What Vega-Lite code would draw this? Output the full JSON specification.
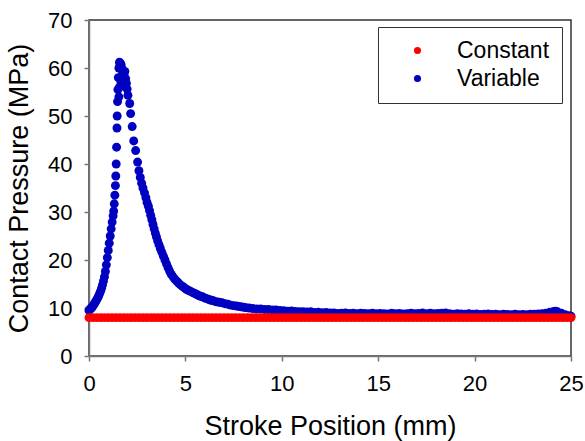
{
"$schema":"https://vega.github.io/schema/vega-lite/v6.json",
"width":482,"height":336,
"autosize":{"type":"none"},
"padding":{"left":89,"top":20,"right":14,"bottom":85},
"config":{"font":"Liberation Sans","view":{"stroke":"#333","strokeWidth":1.5},
 "axis":{"grid":false,"domainColor":"#777","domainWidth":1.5,"tickColor":"#777","tickWidth":1.5,"tickSize":5,"labelFontSize":22,"labelColor":"#000","labelPadding":12,"labelFlush":false,"titleFontSize":27,"titleFontWeight":"normal","titleColor":"#000"}},
"data":{"values":[
{"x":0.00,"y":9.5,"s":"Variable"},{"x":0.05,"y":9.7,"s":"Variable"},{"x":0.10,"y":9.9,"s":"Variable"},{"x":0.15,"y":10.1,"s":"Variable"},{"x":0.20,"y":10.4,"s":"Variable"},{"x":0.25,"y":10.7,"s":"Variable"},{"x":0.30,"y":11.0,"s":"Variable"},{"x":0.35,"y":11.4,"s":"Variable"},{"x":0.40,"y":11.7,"s":"Variable"},{"x":0.45,"y":12.1,"s":"Variable"},{"x":0.50,"y":12.5,"s":"Variable"},{"x":0.55,"y":13.0,"s":"Variable"},{"x":0.60,"y":13.5,"s":"Variable"},{"x":0.65,"y":14.1,"s":"Variable"},{"x":0.70,"y":14.8,"s":"Variable"},{"x":0.75,"y":15.6,"s":"Variable"},{"x":0.80,"y":16.5,"s":"Variable"},{"x":0.85,"y":17.6,"s":"Variable"},{"x":0.90,"y":19.0,"s":"Variable"},{"x":0.95,"y":20.5,"s":"Variable"},{"x":1.00,"y":22.0,"s":"Variable"},{"x":1.05,"y":23.5,"s":"Variable"},{"x":1.10,"y":25.0,"s":"Variable"},{"x":1.15,"y":26.5,"s":"Variable"},{"x":1.20,"y":27.9,"s":"Variable"},{"x":1.25,"y":29.2,"s":"Variable"},{"x":1.28,"y":30.2,"s":"Variable"},{"x":1.31,"y":31.7,"s":"Variable"},{"x":1.34,"y":33.5,"s":"Variable"},{"x":1.37,"y":35.5,"s":"Variable"},{"x":1.39,"y":37.5,"s":"Variable"},{"x":1.41,"y":40.0,"s":"Variable"},{"x":1.43,"y":43.5,"s":"Variable"},{"x":1.45,"y":47.5,"s":"Variable"},{"x":1.46,"y":50.0,"s":"Variable"},{"x":1.48,"y":53.0,"s":"Variable"},{"x":1.50,"y":55.5,"s":"Variable"},{"x":1.52,"y":58.0,"s":"Variable"},{"x":1.55,"y":60.0,"s":"Variable"},{"x":1.58,"y":61.2,"s":"Variable"},{"x":1.61,"y":61.0,"s":"Variable"},
{"x":1.62,"y":60.5,"s":"Variable"},{"x":1.66,"y":60.8,"s":"Variable"},{"x":1.70,"y":60.0,"s":"Variable"},{"x":1.74,"y":59.2,"s":"Variable"},{"x":1.78,"y":58.4,"s":"Variable"},{"x":1.62,"y":58.0,"s":"Variable"},{"x":1.66,"y":57.0,"s":"Variable"},{"x":1.72,"y":57.8,"s":"Variable"},{"x":1.82,"y":58.8,"s":"Variable"},{"x":1.86,"y":59.3,"s":"Variable"},{"x":1.90,"y":57.8,"s":"Variable"},{"x":1.94,"y":56.8,"s":"Variable"},{"x":1.98,"y":55.6,"s":"Variable"},{"x":2.02,"y":54.3,"s":"Variable"},{"x":1.55,"y":54.0,"s":"Variable"},{"x":1.58,"y":56.0,"s":"Variable"},
{"x":2.11,"y":52.6,"s":"Variable"},{"x":2.16,"y":50.5,"s":"Variable"},{"x":2.24,"y":47.8,"s":"Variable"},{"x":2.32,"y":44.8,"s":"Variable"},{"x":2.42,"y":42.8,"s":"Variable"},{"x":2.52,"y":40.4,"s":"Variable"},{"x":2.59,"y":38.6,"s":"Variable"},{"x":2.66,"y":37.2,"s":"Variable"},{"x":2.73,"y":36.0,"s":"Variable"},{"x":2.80,"y":35.0,"s":"Variable"},{"x":2.88,"y":34.0,"s":"Variable"},{"x":2.95,"y":33.0,"s":"Variable"},{"x":3.01,"y":32.0,"s":"Variable"},{"x":3.08,"y":31.2,"s":"Variable"},{"x":3.14,"y":30.3,"s":"Variable"},{"x":3.20,"y":29.3,"s":"Variable"},{"x":3.26,"y":28.4,"s":"Variable"},{"x":3.32,"y":27.4,"s":"Variable"},{"x":3.38,"y":26.5,"s":"Variable"},{"x":3.44,"y":25.6,"s":"Variable"},{"x":3.50,"y":24.8,"s":"Variable"},{"x":3.56,"y":24.0,"s":"Variable"},{"x":3.63,"y":23.2,"s":"Variable"},{"x":3.70,"y":22.4,"s":"Variable"},{"x":3.78,"y":21.6,"s":"Variable"},{"x":3.86,"y":20.8,"s":"Variable"},{"x":3.94,"y":20.0,"s":"Variable"},{"x":4.02,"y":19.2,"s":"Variable"},{"x":4.10,"y":18.4,"s":"Variable"},{"x":4.18,"y":17.7,"s":"Variable"},{"x":4.27,"y":17.0,"s":"Variable"},{"x":4.36,"y":16.5,"s":"Variable"},{"x":4.45,"y":16.0,"s":"Variable"},{"x":4.55,"y":15.6,"s":"Variable"},{"x":4.65,"y":15.2,"s":"Variable"},{"x":4.75,"y":14.8,"s":"Variable"},{"x":4.85,"y":14.5,"s":"Variable"},{"x":4.95,"y":14.2,"s":"Variable"},{"x":5.05,"y":13.9,"s":"Variable"},{"x":5.15,"y":13.7,"s":"Variable"},{"x":5.25,"y":13.5,"s":"Variable"},{"x":5.35,"y":13.3,"s":"Variable"},{"x":5.45,"y":13.1,"s":"Variable"},{"x":5.55,"y":12.9,"s":"Variable"},{"x":5.65,"y":12.7,"s":"Variable"},{"x":5.75,"y":12.5,"s":"Variable"},{"x":5.85,"y":12.4,"s":"Variable"},{"x":5.95,"y":12.2,"s":"Variable"},{"x":6.05,"y":12.0,"s":"Variable"},{"x":6.15,"y":11.9,"s":"Variable"},{"x":6.25,"y":11.7,"s":"Variable"},{"x":6.35,"y":11.6,"s":"Variable"},{"x":6.45,"y":11.5,"s":"Variable"},{"x":6.60,"y":11.3,"s":"Variable"},{"x":6.75,"y":11.2,"s":"Variable"},{"x":6.90,"y":11.1,"s":"Variable"},{"x":7.05,"y":10.9,"s":"Variable"},{"x":7.20,"y":10.8,"s":"Variable"},{"x":7.35,"y":10.6,"s":"Variable"},{"x":7.50,"y":10.5,"s":"Variable"},{"x":7.65,"y":10.4,"s":"Variable"},{"x":7.80,"y":10.3,"s":"Variable"},{"x":7.95,"y":10.2,"s":"Variable"},{"x":8.10,"y":10.1,"s":"Variable"},{"x":8.30,"y":10.0,"s":"Variable"},{"x":8.50,"y":9.9,"s":"Variable"},{"x":8.70,"y":9.8,"s":"Variable"},{"x":8.90,"y":9.8,"s":"Variable"},{"x":9.10,"y":9.7,"s":"Variable"},{"x":9.30,"y":9.7,"s":"Variable"},{"x":9.50,"y":9.6,"s":"Variable"},{"x":9.70,"y":9.6,"s":"Variable"},{"x":9.90,"y":9.5,"s":"Variable"},
{"x":10.1,"y":9.45,"s":"Variable"},{"x":10.3,"y":9.35,"s":"Variable"},{"x":10.5,"y":9.4,"s":"Variable"},{"x":10.7,"y":9.3,"s":"Variable"},{"x":10.9,"y":9.2,"s":"Variable"},{"x":11.1,"y":9.25,"s":"Variable"},{"x":11.3,"y":9.15,"s":"Variable"},{"x":11.5,"y":9.2,"s":"Variable"},{"x":11.7,"y":9.05,"s":"Variable"},{"x":11.9,"y":9.1,"s":"Variable"},{"x":12.1,"y":9.0,"s":"Variable"},{"x":12.3,"y":9.05,"s":"Variable"},{"x":12.5,"y":8.95,"s":"Variable"},{"x":12.7,"y":8.95,"s":"Variable"},{"x":12.9,"y":8.85,"s":"Variable"},{"x":13.1,"y":8.9,"s":"Variable"},{"x":13.3,"y":8.95,"s":"Variable"},{"x":13.5,"y":8.85,"s":"Variable"},{"x":13.7,"y":8.9,"s":"Variable"},{"x":13.9,"y":8.8,"s":"Variable"},{"x":14.1,"y":8.9,"s":"Variable"},{"x":14.3,"y":8.85,"s":"Variable"},{"x":14.5,"y":8.8,"s":"Variable"},{"x":14.7,"y":8.9,"s":"Variable"},{"x":14.9,"y":8.8,"s":"Variable"},{"x":15.1,"y":8.85,"s":"Variable"},{"x":15.3,"y":8.8,"s":"Variable"},{"x":15.5,"y":8.75,"s":"Variable"},{"x":15.7,"y":8.9,"s":"Variable"},{"x":15.9,"y":8.8,"s":"Variable"},{"x":16.1,"y":8.85,"s":"Variable"},{"x":16.3,"y":8.75,"s":"Variable"},{"x":16.5,"y":8.8,"s":"Variable"},{"x":16.7,"y":8.9,"s":"Variable"},{"x":16.9,"y":8.8,"s":"Variable"},{"x":17.1,"y":8.85,"s":"Variable"},{"x":17.3,"y":8.95,"s":"Variable"},{"x":17.5,"y":8.8,"s":"Variable"},{"x":17.7,"y":8.9,"s":"Variable"},{"x":17.9,"y":8.8,"s":"Variable"},{"x":18.1,"y":8.85,"s":"Variable"},{"x":18.3,"y":8.9,"s":"Variable"},{"x":18.5,"y":8.95,"s":"Variable"},{"x":18.7,"y":8.8,"s":"Variable"},{"x":18.9,"y":8.7,"s":"Variable"},{"x":19.1,"y":8.8,"s":"Variable"},{"x":19.3,"y":8.75,"s":"Variable"},{"x":19.5,"y":8.7,"s":"Variable"},{"x":19.7,"y":8.8,"s":"Variable"},{"x":19.9,"y":8.7,"s":"Variable"},{"x":20.1,"y":8.75,"s":"Variable"},{"x":20.3,"y":8.65,"s":"Variable"},{"x":20.5,"y":8.7,"s":"Variable"},{"x":20.7,"y":8.75,"s":"Variable"},{"x":20.9,"y":8.65,"s":"Variable"},{"x":21.1,"y":8.7,"s":"Variable"},{"x":21.3,"y":8.6,"s":"Variable"},{"x":21.5,"y":8.7,"s":"Variable"},{"x":21.7,"y":8.65,"s":"Variable"},{"x":21.9,"y":8.6,"s":"Variable"},{"x":22.1,"y":8.7,"s":"Variable"},{"x":22.3,"y":8.6,"s":"Variable"},{"x":22.5,"y":8.65,"s":"Variable"},{"x":22.7,"y":8.6,"s":"Variable"},{"x":22.9,"y":8.7,"s":"Variable"},{"x":23.1,"y":8.7,"s":"Variable"},{"x":23.3,"y":8.75,"s":"Variable"},{"x":23.5,"y":8.8,"s":"Variable"},{"x":23.7,"y":8.9,"s":"Variable"},{"x":23.9,"y":9.1,"s":"Variable"},{"x":24.1,"y":9.3,"s":"Variable"},{"x":24.2,"y":9.35,"s":"Variable"},{"x":24.3,"y":9.2,"s":"Variable"},{"x":24.5,"y":8.9,"s":"Variable"},{"x":24.7,"y":8.6,"s":"Variable"},{"x":24.9,"y":8.4,"s":"Variable"},{"x":25.0,"y":8.3,"s":"Variable"},
{"x":0.0,"y":8,"s":"Constant"},{"x":0.2,"y":8,"s":"Constant"},{"x":0.4,"y":8,"s":"Constant"},{"x":0.6,"y":8,"s":"Constant"},{"x":0.8,"y":8,"s":"Constant"},{"x":1.0,"y":8,"s":"Constant"},{"x":1.2,"y":8,"s":"Constant"},{"x":1.4,"y":8,"s":"Constant"},{"x":1.6,"y":8,"s":"Constant"},{"x":1.8,"y":8,"s":"Constant"},{"x":2.0,"y":8,"s":"Constant"},{"x":2.2,"y":8,"s":"Constant"},{"x":2.4,"y":8,"s":"Constant"},{"x":2.6,"y":8,"s":"Constant"},{"x":2.8,"y":8,"s":"Constant"},{"x":3.0,"y":8,"s":"Constant"},{"x":3.2,"y":8,"s":"Constant"},{"x":3.4,"y":8,"s":"Constant"},{"x":3.6,"y":8,"s":"Constant"},{"x":3.8,"y":8,"s":"Constant"},{"x":4.0,"y":8,"s":"Constant"},{"x":4.2,"y":8,"s":"Constant"},{"x":4.4,"y":8,"s":"Constant"},{"x":4.6,"y":8,"s":"Constant"},{"x":4.8,"y":8,"s":"Constant"},{"x":5.0,"y":8,"s":"Constant"},{"x":5.2,"y":8,"s":"Constant"},{"x":5.4,"y":8,"s":"Constant"},{"x":5.6,"y":8,"s":"Constant"},{"x":5.8,"y":8,"s":"Constant"},{"x":6.0,"y":8,"s":"Constant"},{"x":6.2,"y":8,"s":"Constant"},{"x":6.4,"y":8,"s":"Constant"},{"x":6.6,"y":8,"s":"Constant"},{"x":6.8,"y":8,"s":"Constant"},{"x":7.0,"y":8,"s":"Constant"},{"x":7.2,"y":8,"s":"Constant"},{"x":7.4,"y":8,"s":"Constant"},{"x":7.6,"y":8,"s":"Constant"},{"x":7.8,"y":8,"s":"Constant"},{"x":8.0,"y":8,"s":"Constant"},{"x":8.2,"y":8,"s":"Constant"},{"x":8.4,"y":8,"s":"Constant"},{"x":8.6,"y":8,"s":"Constant"},{"x":8.8,"y":8,"s":"Constant"},{"x":9.0,"y":8,"s":"Constant"},{"x":9.2,"y":8,"s":"Constant"},{"x":9.4,"y":8,"s":"Constant"},{"x":9.6,"y":8,"s":"Constant"},{"x":9.8,"y":8,"s":"Constant"},{"x":10.0,"y":8,"s":"Constant"},{"x":10.2,"y":8,"s":"Constant"},{"x":10.4,"y":8,"s":"Constant"},{"x":10.6,"y":8,"s":"Constant"},{"x":10.8,"y":8,"s":"Constant"},{"x":11.0,"y":8,"s":"Constant"},{"x":11.2,"y":8,"s":"Constant"},{"x":11.4,"y":8,"s":"Constant"},{"x":11.6,"y":8,"s":"Constant"},{"x":11.8,"y":8,"s":"Constant"},{"x":12.0,"y":8,"s":"Constant"},{"x":12.2,"y":8,"s":"Constant"},{"x":12.4,"y":8,"s":"Constant"},{"x":12.6,"y":8,"s":"Constant"},{"x":12.8,"y":8,"s":"Constant"},{"x":13.0,"y":8,"s":"Constant"},{"x":13.2,"y":8,"s":"Constant"},{"x":13.4,"y":8,"s":"Constant"},{"x":13.6,"y":8,"s":"Constant"},{"x":13.8,"y":8,"s":"Constant"},{"x":14.0,"y":8,"s":"Constant"},{"x":14.2,"y":8,"s":"Constant"},{"x":14.4,"y":8,"s":"Constant"},{"x":14.6,"y":8,"s":"Constant"},{"x":14.8,"y":8,"s":"Constant"},{"x":15.0,"y":8,"s":"Constant"},{"x":15.2,"y":8,"s":"Constant"},{"x":15.4,"y":8,"s":"Constant"},{"x":15.6,"y":8,"s":"Constant"},{"x":15.8,"y":8,"s":"Constant"},{"x":16.0,"y":8,"s":"Constant"},{"x":16.2,"y":8,"s":"Constant"},{"x":16.4,"y":8,"s":"Constant"},{"x":16.6,"y":8,"s":"Constant"},{"x":16.8,"y":8,"s":"Constant"},{"x":17.0,"y":8,"s":"Constant"},{"x":17.2,"y":8,"s":"Constant"},{"x":17.4,"y":8,"s":"Constant"},{"x":17.6,"y":8,"s":"Constant"},{"x":17.8,"y":8,"s":"Constant"},{"x":18.0,"y":8,"s":"Constant"},{"x":18.2,"y":8,"s":"Constant"},{"x":18.4,"y":8,"s":"Constant"},{"x":18.6,"y":8,"s":"Constant"},{"x":18.8,"y":8,"s":"Constant"},{"x":19.0,"y":8,"s":"Constant"},{"x":19.2,"y":8,"s":"Constant"},{"x":19.4,"y":8,"s":"Constant"},{"x":19.6,"y":8,"s":"Constant"},{"x":19.8,"y":8,"s":"Constant"},{"x":20.0,"y":8,"s":"Constant"},{"x":20.2,"y":8,"s":"Constant"},{"x":20.4,"y":8,"s":"Constant"},{"x":20.6,"y":8,"s":"Constant"},{"x":20.8,"y":8,"s":"Constant"},{"x":21.0,"y":8,"s":"Constant"},{"x":21.2,"y":8,"s":"Constant"},{"x":21.4,"y":8,"s":"Constant"},{"x":21.6,"y":8,"s":"Constant"},{"x":21.8,"y":8,"s":"Constant"},{"x":22.0,"y":8,"s":"Constant"},{"x":22.2,"y":8,"s":"Constant"},{"x":22.4,"y":8,"s":"Constant"},{"x":22.6,"y":8,"s":"Constant"},{"x":22.8,"y":8,"s":"Constant"},{"x":23.0,"y":8,"s":"Constant"},{"x":23.2,"y":8,"s":"Constant"},{"x":23.4,"y":8,"s":"Constant"},{"x":23.6,"y":8,"s":"Constant"},{"x":23.8,"y":8,"s":"Constant"},{"x":24.0,"y":8,"s":"Constant"},{"x":24.2,"y":8,"s":"Constant"},{"x":24.4,"y":8,"s":"Constant"},{"x":24.6,"y":8,"s":"Constant"},{"x":24.8,"y":8,"s":"Constant"},{"x":25.0,"y":8,"s":"Constant"}
]},
"mark":{"type":"circle","size":80,"opacity":1},
"encoding":{
 "x":{"field":"x","type":"quantitative","scale":{"domain":[0,25],"nice":false},"axis":{"values":[0,5,10,15,20,25],"title":"Stroke Position (mm)","titlePadding":19}},
 "y":{"field":"y","type":"quantitative","scale":{"domain":[0,70],"nice":false},"axis":{"values":[0,10,20,30,40,50,60,70],"title":"Contact Pressure (MPa)","titlePadding":14}},
 "color":{"field":"s","type":"nominal","scale":{"domain":["Constant","Variable"],"range":["#FF0000","#0000C0"]},
  "legend":{"title":null,"orient":"none","legendX":289,"legendY":7,"strokeColor":"#333","fillColor":"white","padding":12,"symbolSize":50,"symbolType":"circle","symbolOpacity":1,"labelFontSize":23,"labelColor":"#000","symbolOffset":16,"labelOffset":28,"rowPadding":4}}
}
}
